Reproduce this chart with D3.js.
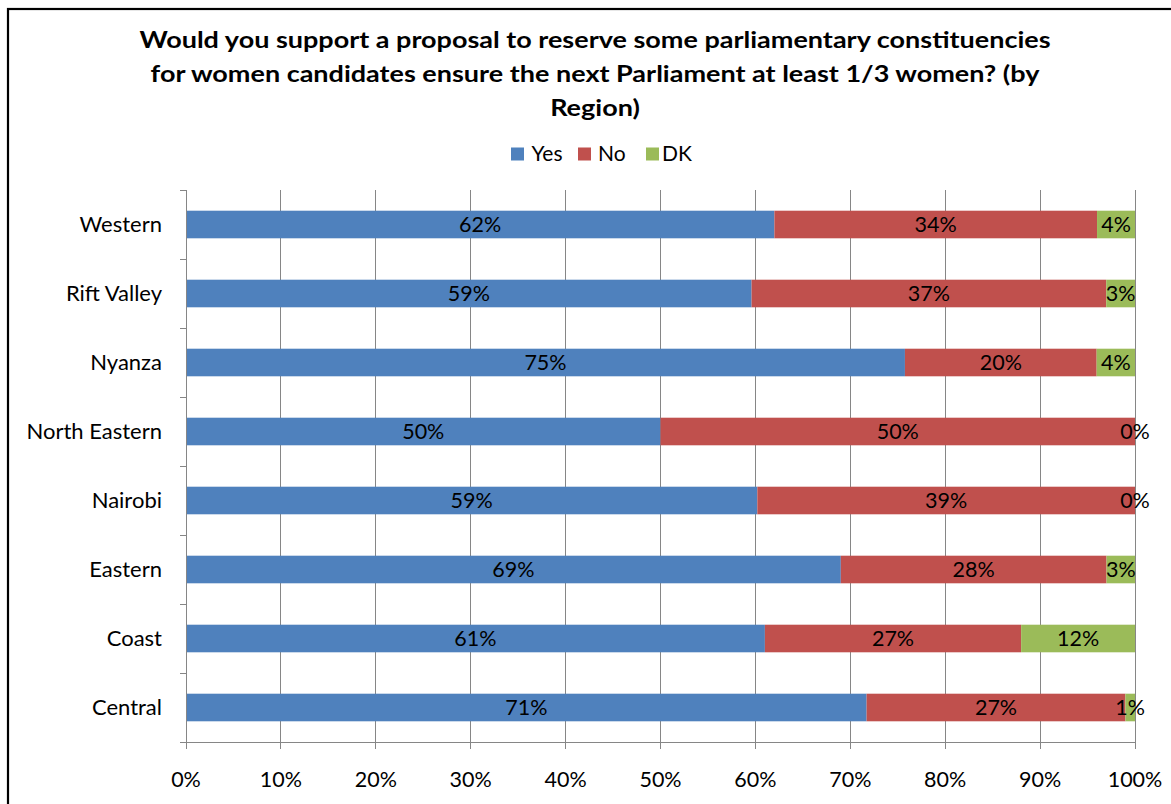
<!DOCTYPE html>
<html>
<head>
<meta charset="utf-8">
<script src="https://cdn.jsdelivr.net/npm/d3@7"></script>
<style>
  html, body { margin: 0; padding: 0; background: #fff; }
  svg { display: block; }
  text { font-family: Lato, "Open Sans", sans-serif; fill: #000; }
</style>
</head>
<body>
<svg id="chart" width="1171" height="804"></svg>
<script>
// Survey responses by region (percent, as labelled)
const regions = ["Western", "Rift Valley", "Nyanza", "North Eastern", "Nairobi", "Eastern", "Coast", "Central"];
const yesVals = [62, 59, 75, 50, 59, 69, 61, 71];
const noVals  = [34, 37, 20, 50, 39, 28, 27, 27];
const dkVals  = [4, 3, 4, 0, 0, 3, 12, 1];
const seriesNames = ["Yes", "No", "DK"];
const seriesColors = ["#4F81BD", "#C0504D", "#9BBB59"];
const xTicks = [0, 0.1, 0.2, 0.3, 0.4, 0.5, 0.6, 0.7, 0.8, 0.9, 1.0];
const titleLines = [
  "Would you support a proposal to reserve some parliamentary constituencies",
  "for women candidates ensure the next Parliament at least 1/3 women? (by",
  "Region)"
];

const rows = regions.map((r, i) => ({ region: r, Yes: yesVals[i], No: noVals[i], DK: dkVals[i] }));

const svg = d3.select("#chart");
const W = 1171, H = 804;
const plot = { left: 186, right: 1135, top: 190, bottom: 742 };

// chart frame
svg.append("rect")
  .attr("x", 8).attr("y", 9)
  .attr("width", W + 10).attr("height", H + 10)
  .attr("fill", "#fff").attr("stroke", "#000").attr("stroke-width", 2.2);

// title (slightly widened bold face)
const titleCx = 595;
const title = svg.append("text")
  .attr("text-anchor", "middle")
  .attr("font-weight", "bold")
  .attr("font-size", 22.5)
  .attr("transform", `translate(${titleCx},0) scale(1.2,1)`);
titleLines.forEach((t, i) => {
  title.append("tspan").attr("x", 0).attr("y", 48.5 + i * 34).text(t);
});

// scales
const x = d3.scaleLinear().domain([0, 1]).range([plot.left, plot.right]);
const y = d3.scaleBand().domain(regions).range([plot.top, plot.bottom])
  .paddingInner(0.6).paddingOuter(0.3);
const slot = d3.scaleLinear().domain([0, regions.length]).range([plot.top, plot.bottom]);

// vertical gridlines
svg.append("g").selectAll("line")
  .data(xTicks.filter(d => d > 0))
  .join("line")
  .attr("x1", d => x(d)).attr("x2", d => x(d))
  .attr("y1", plot.top).attr("y2", plot.bottom)
  .attr("stroke", "#868686").attr("stroke-width", 1)
  .attr("shape-rendering", "crispEdges");

// stacked bars, normalised to 100%
const stack = d3.stack().keys(seriesNames).offset(d3.stackOffsetExpand);
const layers = stack(rows);

const layerG = svg.append("g").selectAll("g")
  .data(layers)
  .join("g")
  .attr("fill", (d, i) => seriesColors[i]);

layerG.selectAll("rect")
  .data(d => d)
  .join("rect")
  .attr("x", d => x(d[0]))
  .attr("width", d => x(d[1]) - x(d[0]))
  .attr("y", d => y(d.data.region))
  .attr("height", y.bandwidth());

// value labels centred in each segment
layerG.selectAll("text")
  .data(d => d.map(v => ({ v, key: d.key })))
  .join("text")
  .attr("x", d => x((d.v[0] + d.v[1]) / 2))
  .attr("y", d => y(d.v.data.region) + y.bandwidth() / 2)
  .attr("dy", "0.35em")
  .attr("text-anchor", "middle")
  .attr("font-size", 21.5)
  .text(d => d.v.data[d.key] + "%");

// vertical (category) axis
const axisG = svg.append("g");
axisG.append("line")
  .attr("x1", plot.left).attr("x2", plot.left)
  .attr("y1", plot.top).attr("y2", plot.bottom)
  .attr("stroke", "#868686").attr("shape-rendering", "crispEdges");
axisG.selectAll("line.tick")
  .data(d3.range(regions.length + 1))
  .join("line")
  .attr("class", "tick")
  .attr("x1", plot.left - 6).attr("x2", plot.left)
  .attr("y1", d => slot(d)).attr("y2", d => slot(d))
  .attr("stroke", "#868686").attr("shape-rendering", "crispEdges");
axisG.selectAll("text")
  .data(regions)
  .join("text")
  .attr("x", plot.left - 24)
  .attr("y", d => y(d) + y.bandwidth() / 2)
  .attr("dy", "0.35em")
  .attr("text-anchor", "end")
  .attr("font-size", 22)
  .text(d => d);

// horizontal (value) axis
const xAxisG = svg.append("g");
xAxisG.append("line")
  .attr("x1", plot.left).attr("x2", plot.right)
  .attr("y1", plot.bottom).attr("y2", plot.bottom)
  .attr("stroke", "#868686").attr("shape-rendering", "crispEdges");
xAxisG.selectAll("line.tick")
  .data(xTicks)
  .join("line")
  .attr("class", "tick")
  .attr("x1", d => x(d)).attr("x2", d => x(d))
  .attr("y1", plot.bottom).attr("y2", plot.bottom + 7)
  .attr("stroke", "#868686").attr("shape-rendering", "crispEdges");
xAxisG.selectAll("text")
  .data(xTicks)
  .join("text")
  .attr("x", d => x(d))
  .attr("y", 787)
  .attr("text-anchor", "middle")
  .attr("font-size", 21.5)
  .text(d => d3.format(".0%")(d));

// legend
const legendX = [511, 578, 646];
const legend = svg.append("g").selectAll("g")
  .data(seriesNames)
  .join("g")
  .attr("transform", (d, i) => `translate(${legendX[i]},147.5)`);
legend.append("rect")
  .attr("width", 13).attr("height", 13)
  .attr("fill", (d, i) => seriesColors[i]);
legend.append("text")
  .attr("x", (d, i) => [20.5, 20, 16][i])
  .attr("y", 13.5)
  .attr("font-size", 21)
  .text(d => d);
</script>
</body>
</html>
